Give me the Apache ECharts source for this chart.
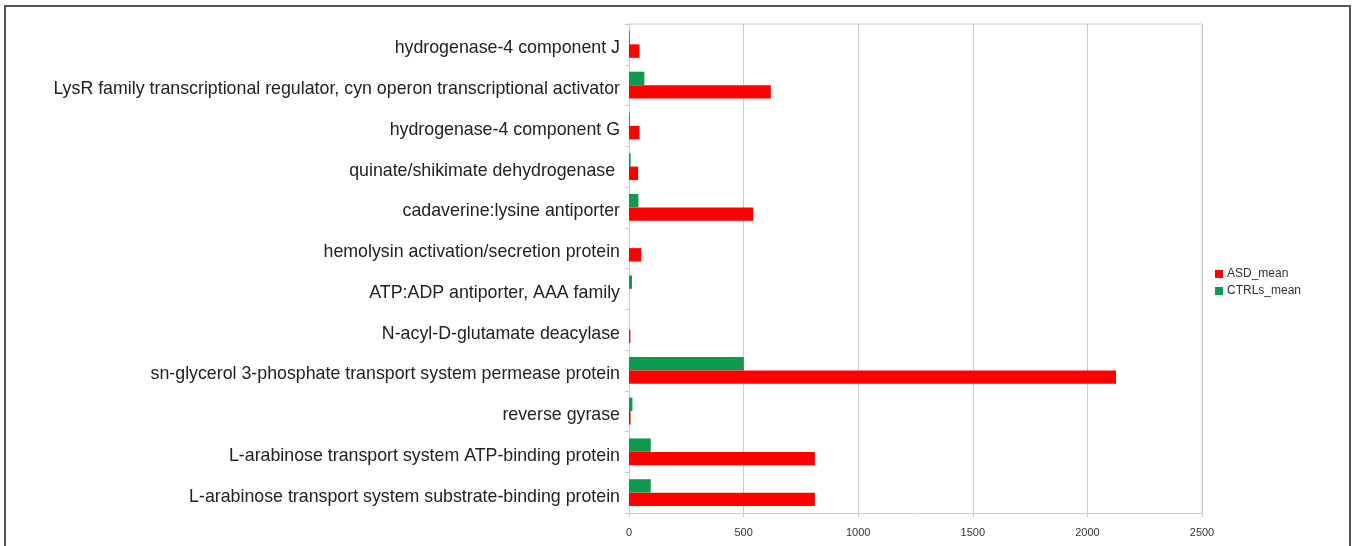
<!DOCTYPE html>
<html>
<head>
<meta charset="utf-8">
<script src="https://cdn.jsdelivr.net/npm/echarts@6/dist/echarts.min.js"></script>
<style>
html,body{margin:0;padding:0;background:#fff;}
#chart{width:1354px;height:546px;}
</style>
</head>
<body>
<div id="chart"></div>
<script>
// categories listed bottom to top
const categories = [
  "L-arabinose transport system substrate-binding protein",
  "L-arabinose transport system ATP-binding protein",
  "reverse gyrase",
  "sn-glycerol 3-phosphate transport system permease protein",
  "N-acyl-D-glutamate deacylase",
  "ATP:ADP antiporter, AAA family",
  "hemolysin activation/secretion protein",
  "cadaverine:lysine antiporter",
  "quinate/shikimate dehydrogenase ",
  "hydrogenase-4 component G",
  "LysR family transcriptional regulator, cyn operon transcriptional activator",
  "hydrogenase-4 component J"
];
const asdMean   = [811, 811, 7, 2125, 6, 0, 54, 542, 40, 46, 619, 46];
const ctrlsMean = [95, 95, 15, 501, 0, 13, 0, 41, 7, 4, 67, 4];
const xTicks = [0, 500, 1000, 1500, 2000, 2500];

const chart = echarts.init(document.getElementById('chart'));
chart.setOption({
  animation: false,
  backgroundColor: '#fff',
  graphic: [{
    type: 'rect',
    shape: {x: 5, y: 6, width: 1345, height: 600},
    style: {fill: 'none', stroke: '#555', lineWidth: 2},
    silent: true
  }, {
    type: 'polyline',
    shape: {points: [[629, 24], [1202, 24], [1202, 513]]},
    style: {stroke: '#cccccc', lineWidth: 1, fill: 'none'},
    silent: true
  }],
  legend: {
    orient: 'vertical',
    left: 1210,
    top: 263,
    itemWidth: 8,
    itemHeight: 8,
    itemGap: 5,
    icon: 'rect',
    textStyle: {fontFamily: 'Liberation Sans', fontSize: 12, color: '#333', padding: [0, 0, 0, -1]},
    data: ['ASD_mean', 'CTRLs_mean']
  },
  grid: {left: 629, right: 152, top: 24, bottom: 33, containLabel: false},
  xAxis: {
    type: 'value',
    min: xTicks[0],
    max: xTicks[xTicks.length - 1],
    interval: 500,
    axisLine: {show: true, lineStyle: {color: '#cccccc'}},
    axisTick: {show: true, length: 4, lineStyle: {color: '#cccccc'}},
    axisLabel: {fontFamily: 'Liberation Sans', fontSize: 11, color: '#333', margin: 14,
      formatter: function (v) { return String(v); }},
    splitLine: {show: true, lineStyle: {color: '#cccccc'}}
  },
  yAxis: {
    type: 'category',
    data: categories,
    axisLine: {show: true, lineStyle: {color: '#cccccc'}},
    axisTick: {show: true, length: 4, lineStyle: {color: '#cccccc'}},
    axisLabel: {fontFamily: 'Liberation Sans', fontSize: 17.8, color: '#222', margin: 9,
      verticalAlign: 'top', lineHeight: 8},
    splitLine: {show: false}
  },
  series: [
    {
      name: 'CTRLs_mean', type: 'bar', data: ctrlsMean,
      itemStyle: {color: '#0d9a4f'},
      barGap: '0%', barCategoryGap: '34%'
    },
    {
      name: 'ASD_mean', type: 'bar', data: asdMean,
      itemStyle: {color: '#ff0000'},
      barGap: '0%', barCategoryGap: '34%'
    }
  ]
});
</script>
</body>
</html>
